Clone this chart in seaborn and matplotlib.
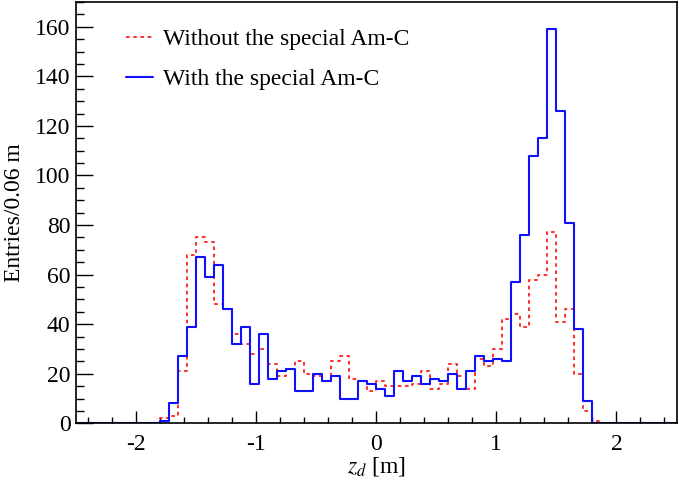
import numpy as np
import pandas as pd
import seaborn as sns
import matplotlib.pyplot as plt
from matplotlib.ticker import MultipleLocator

# z_d histogram, 0.075 m bins starting at -1.8 m
bin_lo = -1.8
bin_w = 0.075
without_amc = [2, 3, 21, 68, 75, 73, 48, 46, 36, 32, 28, 30, 24, 19, 22, 25, 20, 19, 17, 25,
               27, 18, 17, 13, 17, 15, 15, 15, 16, 21, 14, 16, 24, 19, 14, 26, 23, 30, 42, 44,
               39, 58, 60, 77, 41, 46, 20, 5, 1]
with_amc = [1, 8, 27, 39, 67, 59, 64, 46, 32, 39, 16, 36, 18, 21, 22, 13, 13, 20, 17, 19,
            10, 10, 17, 16, 14, 11, 21, 17, 19, 16, 18, 17, 20, 14, 21, 27, 25, 26, 25, 57,
            76, 108, 115, 159, 126, 81, 38, 9, 0]
x_ticks = [-2, -1, 0, 1, 2]
y_ticks = [0, 20, 40, 60, 80, 100, 120, 140, 160]

centers = bin_lo + bin_w * (np.arange(len(with_amc)) + 0.5)
edges = np.arange(-2.55, 2.56, bin_w).tolist()  # list, seaborn compares bins to "auto"
df_wo = pd.DataFrame({'z': centers, 'n': without_amc})
df_w = pd.DataFrame({'z': centers, 'n': with_amc})

sns.set_theme(style='white')
plt.rcParams['font.family'] = ['Liberation Serif', 'DejaVu Serif']
plt.rcParams['mathtext.fontset'] = 'stix'
plt.rcParams['text.color'] = 'black'
plt.rcParams['axes.labelcolor'] = 'black'
fs = 17

fig = plt.figure(figsize=(6.79, 4.80), dpi=100)
ax = fig.add_axes([76 / 679, 56.7 / 480, 600.5 / 679, 421.3 / 480])

sns.histplot(data=df_wo, x='z', weights='n', bins=edges, element='step', fill=False,
             color='#ff2020', linestyle=(0, (2, 2)), linewidth=1.3,
             label='Without the special Am-C', ax=ax)
sns.histplot(data=df_w, x='z', weights='n', bins=edges, element='step', fill=False,
             color='#1010ff', linewidth=1.5,
             label='With the special Am-C', ax=ax)

ax.set_xlim(-2.5, 2.5)
ax.set_ylim(0, 170)
ax.set_xticks(x_ticks)
ax.set_xticklabels([str(v) for v in x_ticks])
ax.set_yticks(y_ticks)
ax.xaxis.set_minor_locator(MultipleLocator(0.2))
ax.yaxis.set_minor_locator(MultipleLocator(5))
ax.tick_params(which='both', direction='in', bottom=True, left=True, top=False, right=False,
               colors='black', labelsize=fs, width=1)
ax.tick_params(axis='x', which='major', length=8.5, pad=8)
ax.tick_params(axis='x', which='minor', length=4.3)
ax.tick_params(axis='y', which='major', length=12, pad=4)
ax.tick_params(axis='y', which='minor', length=6)
for sp in ax.spines.values():
    sp.set_color('black')
    sp.set_linewidth(1.2)

ax.set_xlabel('$z_d$ [m]', fontsize=fs, labelpad=0)
ax.set_ylabel('Entries/0.06 m', fontsize=fs, labelpad=7)

ax.legend(loc='upper left', bbox_to_anchor=(0.083, 0.937), frameon=False, fontsize=fs,
          borderpad=0, borderaxespad=0, handlelength=1.15, handletextpad=0.42,
          labelspacing=0.8)

fig.savefig('out.png', dpi=100)
